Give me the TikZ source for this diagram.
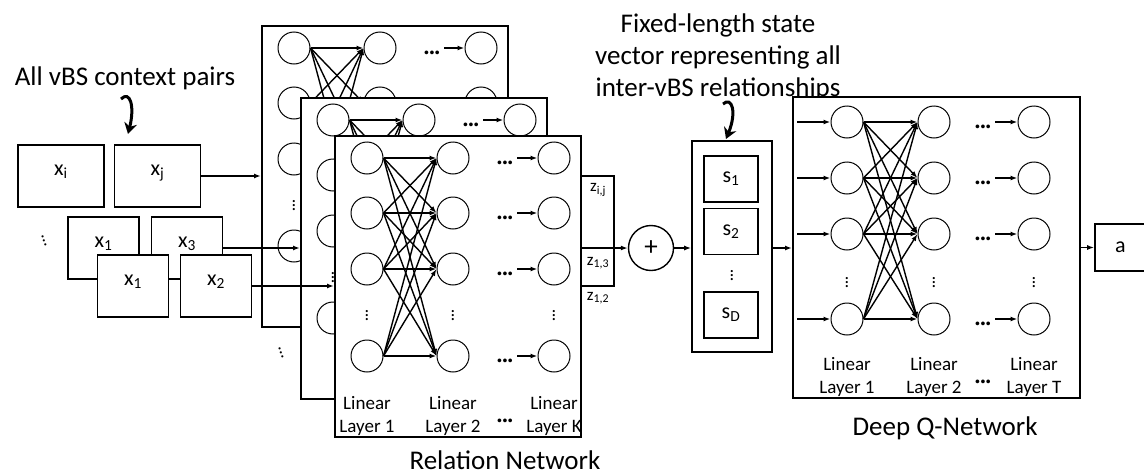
\documentclass[tikz,border=0pt]{standalone}
\usepackage{fontspec}
\setmainfont{Carlito}
\usetikzlibrary{arrows.meta}

\begin{document}
\begin{tikzpicture}[x=1pt, y=-1pt,
    netframe/.style={draw, fill=white, line width=1.8pt, minimum width=246pt, minimum height=301pt, anchor=north west, inner sep=0pt},
    unit/.style={circle, draw, fill=white, line width=1pt, minimum size=32pt, inner sep=0pt},
    wire/.style={line width=1.4pt, -{Latex[length=7pt, width=5pt]}},
    cell/.style={draw, fill=white, line width=1.6pt, inner sep=0pt, font=\fontsize{22}{26}\selectfont},
    txtbig/.style={font=\fontsize{27}{32}\selectfont},
    dotsym/.style={font=\fontsize{20}{22}\selectfont\bfseries, inner sep=4pt, text height=20pt, text depth=0pt},
    vdotsym/.style={font=\fontsize{18}{20}\selectfont, inner sep=2pt},
    layerlab/.style={font=\fontsize{19}{23}\selectfont, align=center, inner sep=2pt},
    zlab/.style={font=\fontsize{17}{20}\selectfont, inner sep=0pt},
    squiggle/.style={line width=3pt, -{Stealth[length=11pt, width=13pt]}}]

	\useasboundingbox (0,0) rectangle (1144,474);

	% captions
	\node[txtbig] (ctx) at (125,78) {All vBS context pairs};
	\node[txtbig, align=center] (state) at (718,57) {Fixed-length state\\vector representing all\\inter-vBS relationships};
	\node[txtbig] (rnname) at (505,460) {Relation Network};
	\node[txtbig] (dqnname) at (945,428) {Deep Q-Network};

	% context pairs, the lower rows drawn over the upper ones
	\node[cell, minimum width=86pt, minimum height=62pt, text depth=12pt] (xi) at (61,176) {x\textsubscript{i}};
	\node[cell, minimum width=86pt, minimum height=62pt, text depth=12pt] (xj) at (157.5,176) {x\textsubscript{j}};
	\node[cell, minimum width=71pt, minimum height=62pt, text depth=12pt] (xa1) at (103.5,248) {x\textsubscript{1}};
	\node[cell, minimum width=71pt, minimum height=62pt, text depth=12pt] (xa3) at (187,248) {x\textsubscript{3}};
	\node[cell, minimum width=71pt, minimum height=62pt, text depth=12pt] (xb1) at (133,286) {x\textsubscript{1}};
	\node[cell, minimum width=71pt, minimum height=62pt, text depth=12pt] (xb2) at (216,286) {x\textsubscript{2}};
	\node[vdotsym, rotate=20] (morepairs) at (43,238) {$\vdots$};

	% stacked relation networks, front one last
	\foreach \f/\fx/\fy in {1/261/25, 2/300/97, 3/334/135} {
		\begin{scope}[shift={(\fx,\fy)}]
			\node[netframe] (rn\f) at (0,0) {};
			\foreach \r/\ry in {1/23, 2/78, 3/134, 4/221} {
				\node[unit] (n\f-1-\r) at (33,\ry) {};
				\node[unit] (n\f-2-\r) at (119,\ry) {};
				\node[unit] (n\f-3-\r) at (220,\ry) {};
				\node[dotsym] (d\f-\r) at (171,\ry) {···};
				\draw[wire] (d\f-\r) -- (n\f-3-\r);
			}
			\node[vdotsym] (v\f-1) at (33,178) {$\vdots$};
			\node[vdotsym] (v\f-2) at (119,178) {$\vdots$};
			\node[vdotsym] (v\f-3) at (220,178) {$\vdots$};
			\foreach \r in {1,...,4}
				\foreach \s in {1,...,4}
					\draw[wire] (n\f-1-\r.east) -- (n\f-2-\s.west);
		\end{scope}
	}
	\node[vdotsym, rotate=20] (morenets) at (280,350) {$\vdots$};

	\node[layerlab, anchor=south] (rl1) at (n3-1-4 |- rn3.south) {Linear\\Layer 1};
	\node[layerlab, anchor=south] (rl2) at (n3-2-4 |- rn3.south) {Linear\\Layer 2};
	\node[layerlab, anchor=south] (rlk) at (n3-3-4 |- rn3.south) {Linear\\Layer K};
	\node[dotsym] (rldots) at (d3-4 |- rl2) {···};

	% pairs into the networks
	\draw[wire] (xj.east) -- (xj.east -| rn1.west);
	\draw[wire] (xa3.east) -- (xa3.east -| rn2.west);
	\draw[wire] (xb2.east) -- (xb2.east -| rn3.west);

	% outputs z summed into the state
	\node[circle, draw, fill=white, line width=1.4pt, minimum size=45pt, inner sep=0pt, txtbig] (plus) at (651,248) {+};
	\coordinate (zt) at (614,176);
	\coordinate (zb) at (614,286);
	\draw[line width=1.6pt] (rn3.east |- zt) -- (zt) -- (zb) -- (rn3.east |- zb);
	\draw[wire] (rn3.east |- plus) -- (plus);
	\node[zlab] (zij) at (598,190) {z\textsubscript{i,j}};
	\node[zlab] (z13) at (598,263) {z\textsubscript{1,3}};
	\node[zlab] (z12) at (598,298) {z\textsubscript{1,2}};

	% state vector
	\node[cell, minimum width=80pt, minimum height=211pt] (sv) at (732,246.5) {};
	\node[cell, minimum width=54pt, minimum height=46pt] (s1) at (731,179) {s\textsubscript{1}};
	\node[cell, minimum width=54pt, minimum height=46pt] (s2) at (731,231.5) {s\textsubscript{2}};
	\node[vdotsym] (sdots) at (732,273) {$\vdots$};
	\node[cell, minimum width=54pt, minimum height=46pt] (sD) at (731,315) {s\textsubscript{D}};
	\draw[wire] (plus) -- (sv.west |- plus);

	% deep Q-network
	\begin{scope}[shift={(792,96)}]
		\node[netframe, minimum width=287pt] (dqn) at (0,0) {};
		\foreach \r/\ry in {1/26, 2/82, 3/138, 4/223} {
			\coordinate (qin\r) at (5,\ry);
			\node[unit] (q1-\r) at (55,\ry) {};
			\node[unit] (q2-\r) at (142,\ry) {};
			\node[unit] (q3-\r) at (242,\ry) {};
			\node[dotsym] (qd-\r) at (191,\ry) {···};
			\draw[wire] (qin\r) -- (q1-\r);
			\draw[wire] (qd-\r) -- (q3-\r);
		}
		\node[vdotsym] (qv1) at (55,184) {$\vdots$};
		\node[vdotsym] (qv2) at (142,184) {$\vdots$};
		\node[vdotsym] (qv3) at (242,184) {$\vdots$};
		\foreach \r in {1,...,4}
			\foreach \s in {1,...,4}
				\draw[wire] (q1-\r.east) -- (q2-\s.west);
	\end{scope}
	\node[layerlab, anchor=south] (ql1) at (q1-4 |- dqn.south) {Linear\\Layer 1};
	\node[layerlab, anchor=south] (ql2) at (q2-4 |- dqn.south) {Linear\\Layer 2};
	\node[layerlab, anchor=south] (qlt) at (q3-4 |- dqn.south) {Linear\\Layer T};
	\node[dotsym] (qldots) at (qd-4 |- ql2) {···};
	\draw[wire] (sv.east |- plus) -- (dqn.west |- plus);

	% action
	\node[cell, minimum width=51pt, minimum height=47pt] (act) at (1120.5,247.5) {a};
	\draw[wire] (dqn.east |- act) -- (act);

	% hand-drawn pointers
	\coordinate (ctxfrom) at (121,99);
	\coordinate (ctxto) at (128,134);
	\draw[squiggle] (ctxfrom) .. controls (130,90) and (135,106) .. (ctxto);
	\coordinate (statefrom) at (723,104);
	\coordinate (stateto) at (726,139);
	\draw[squiggle] (statefrom) .. controls (732,96) and (737,112) .. (stateto);

\end{tikzpicture}
\end{document}
